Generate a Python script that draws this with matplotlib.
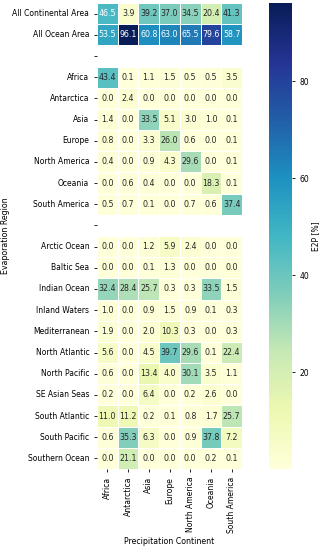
import matplotlib
matplotlib.use('Agg')
import matplotlib.pyplot as plt
import numpy as np
import seaborn as sns

continents = ['Africa', 'Antarctica', 'Asia', 'Europe', 'North America', 'Oceania', 'South America']

regions = ['All Continental Area', 'All Ocean Area', '',
           'Africa', 'Antarctica', 'Asia', 'Europe', 'North America', 'Oceania', 'South America', '',
           'Arctic Ocean', 'Baltic Sea', 'Indian Ocean', 'Inland Waters', 'Mediterranean',
           'North Atlantic', 'North Pacific', 'SE Asian Seas', 'South Atlantic', 'South Pacific',
           'Southern Ocean']

nan = np.nan
values = [
    [46.5, 3.9, 39.2, 37.0, 34.5, 20.4, 41.3],
    [53.5, 96.1, 60.8, 63.0, 65.5, 79.6, 58.7],
    [nan] * 7,
    [43.4, 0.1, 1.1, 1.5, 0.5, 0.5, 3.5],
    [0.0, 2.4, 0.0, 0.0, 0.0, 0.0, 0.0],
    [1.4, 0.0, 33.5, 5.1, 3.0, 1.0, 0.1],
    [0.8, 0.0, 3.3, 26.0, 0.6, 0.0, 0.1],
    [0.4, 0.0, 0.9, 4.3, 29.6, 0.0, 0.1],
    [0.0, 0.6, 0.4, 0.0, 0.0, 18.3, 0.1],
    [0.5, 0.7, 0.1, 0.0, 0.7, 0.6, 37.4],
    [nan] * 7,
    [0.0, 0.0, 1.2, 5.9, 2.4, 0.0, 0.0],
    [0.0, 0.0, 0.1, 1.3, 0.0, 0.0, 0.0],
    [32.4, 28.4, 25.7, 0.3, 0.3, 33.5, 1.5],
    [1.0, 0.0, 0.9, 1.5, 0.9, 0.1, 0.3],
    [1.9, 0.0, 2.0, 10.3, 0.3, 0.0, 0.3],
    [5.6, 0.0, 4.5, 39.7, 29.6, 0.1, 22.4],
    [0.6, 0.0, 13.4, 4.0, 30.1, 3.5, 1.1],
    [0.2, 0.0, 6.4, 0.0, 0.2, 2.6, 0.0],
    [11.0, 11.2, 0.2, 0.1, 0.8, 1.7, 25.7],
    [0.6, 35.3, 6.3, 0.0, 0.9, 37.8, 7.2],
    [0.0, 21.1, 0.0, 0.0, 0.0, 0.2, 0.1],
]
data = np.array(values)

fig = plt.figure(figsize=(3.2, 5.47), dpi=100)
ax = fig.add_axes([97 / 320, 78 / 547, 145 / 320, 466 / 547])
cax = fig.add_axes([269 / 320, 78 / 547, 23 / 320, 466 / 547])

sns.heatmap(data, ax=ax, cbar_ax=cax, cmap='YlGnBu', annot=True, fmt='.1f',
            annot_kws={'fontsize': 5.7}, linewidths=0.5, linecolor='white',
            xticklabels=continents, yticklabels=regions)

ax.tick_params(axis='both', labelsize=5.5, length=2, width=0.6)
ax.set_xticklabels(continents, rotation=90)
ax.set_yticklabels(regions, rotation=0)
ax.set_xlabel('Precipitation Continent', fontsize=5.7, labelpad=3)
ax.set_ylabel('Evaporation Region', fontsize=5.7, labelpad=2)

cax.tick_params(labelsize=5.5, length=2, width=0.6)
cax.set_yticks([20, 40, 60, 80])
cax.set_ylabel('E2P [%]', fontsize=5.5, labelpad=1)

fig.savefig('out.png', dpi=100)
